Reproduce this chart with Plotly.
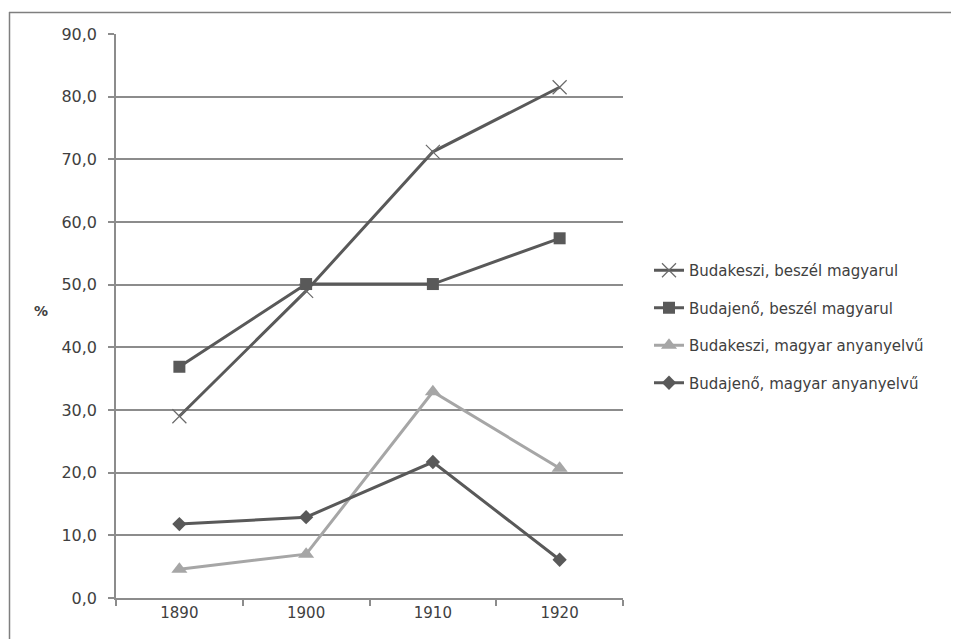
import plotly.graph_objects as go

years = ["1890", "1900", "1910", "1920"]
budakeszi_beszel = [29.0, 49.0, 71.2, 81.5]
budajeno_beszel = [36.9, 50.1, 50.1, 57.4]
budakeszi_anyanyelvu = [4.6, 7.0, 32.9, 20.7]
budajeno_anyanyelvu = [11.8, 12.9, 21.7, 6.1]

dark = "#595959"
light = "#a6a6a6"

fig = go.Figure()
fig.add_trace(go.Scatter(x=years, y=budakeszi_beszel, name="Budakeszi, beszél magyarul",
                         mode="lines+markers", legendgroup="a",
                         line=dict(color=dark, width=3),
                         marker=dict(symbol="x-thin", size=14, line=dict(color="#6a6a6a", width=1.2))))
fig.add_trace(go.Scatter(x=years, y=budajeno_beszel, name="Budajenő, beszél magyarul",
                         mode="lines+markers", legendgroup="b",
                         line=dict(color=dark, width=3),
                         marker=dict(symbol="square", size=12, color=dark)))
fig.add_trace(go.Scatter(x=years, y=budakeszi_anyanyelvu, name="Budakeszi, magyar anyanyelvű",
                         mode="lines+markers", legendgroup="c",
                         line=dict(color=light, width=3),
                         marker=dict(symbol="triangle-up", size=14, color=light)))
fig.add_trace(go.Scatter(x=years, y=budajeno_anyanyelvu, name="Budajenő, magyar anyanyelvű",
                         mode="lines+markers", legendgroup="d",
                         line=dict(color=dark, width=3),
                         marker=dict(symbol="diamond", size=11, color=dark)))

OFF = 7  # page offset of the figure in the browser
L, R, T, B = 115 - OFF, 622 - OFF, 33 - OFF, 597 - OFF
W, H = 959, 639
pw, ph = R - L, B - T

def px(x):
    return (x - OFF - L) / pw

def py(y):
    return (B - (y - OFF)) / ph

fig.update_layout(
    width=W, height=H,
    margin=dict(l=L, r=W - R, t=T, b=H - B, autoexpand=False),
    paper_bgcolor="white", plot_bgcolor="white",
    separators=", ",
    font=dict(family="DejaVu Sans, sans-serif", size=16, color="#404040"),
    showlegend=True,
    legend=dict(x=px(648), y=py(253), xanchor="left", yanchor="top",
                font=dict(size=15, color="#404040"), tracegroupgap=15,
                bgcolor="rgba(0,0,0,0)", itemwidth=30),
    xaxis=dict(type="category", range=[-0.5, 3.5], showgrid=False, showline=True,
               linecolor="#8c8c8c", linewidth=1.5,
               ticks="outside", tickson="boundaries", ticklen=6, tickcolor="#8c8c8c", tickwidth=1.5,
               tickfont=dict(size=15, color="#404040"), fixedrange=True),
    yaxis=dict(range=[0, 90], dtick=10, tickformat=".1f", showgrid=True, gridcolor="#8c8c8c",
               gridwidth=1.5, showline=True, linecolor="#8c8c8c", linewidth=1.5, zeroline=False,
               ticks="outside", ticklen=6, tickcolor="#8c8c8c", tickwidth=1.5,
               ticklabelstandoff=8,
               tickfont=dict(size=16, color="#404040"), fixedrange=True),
    shapes=[
        dict(type="line", xref="paper", yref="paper", x0=px(8.5), x1=px(8.5), y0=py(11), y1=py(660),
             line=dict(color="#7f7f7f", width=1.5)),
        dict(type="line", xref="paper", yref="paper", x0=px(8), x1=px(980), y0=py(11.5), y1=py(11.5),
             line=dict(color="#7f7f7f", width=1.5)),
    ],
    annotations=[
        dict(text="<b>%</b>", xref="paper", yref="paper", x=px(40), y=py(310), showarrow=False,
             font=dict(size=14, color="#404040"), xanchor="center", yanchor="middle"),
    ],
)

fig.write_html("out.html")
